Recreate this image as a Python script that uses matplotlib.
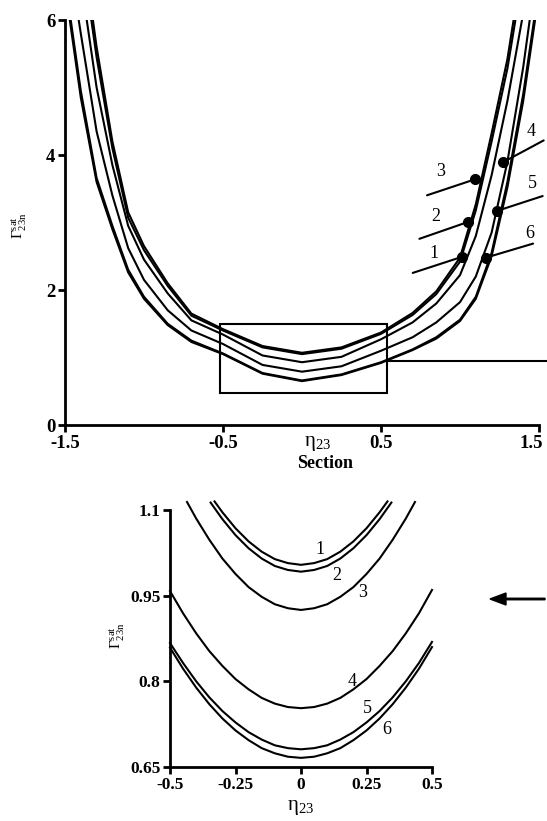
import matplotlib
matplotlib.use("Agg")
import numpy as np
import matplotlib.pyplot as plt
import matplotlib.transforms as mtransforms
from matplotlib.patches import Rectangle, FancyArrow

plt.rcParams['font.family'] = ['Liberation Serif', 'DejaVu Serif']
plt.rcParams['font.weight'] = 'bold'
plt.rcParams['mathtext.fontset'] = 'stix'
plt.rcParams['axes.unicode_minus'] = False

# main panel: eta grid and the six curves
TOP_ETA = [-1.5, -1.4, -1.3, -1.2, -1.1, -1.0, -0.85, -0.7, -0.5, -0.25, 0.0,
           0.25, 0.5, 0.7, 0.85, 1.0, 1.1, 1.2, 1.3, 1.4, 1.5]
TOP_C1 = [9.0, 7.3, 5.6, 4.2, 3.15, 2.65, 2.1, 1.65, 1.42, 1.17, 1.07,
          1.15, 1.37, 1.66, 1.98, 2.48, 3.27, 4.32, 5.42, 6.9, 8.5]
TOP_C2 = [8.8, 7.1, 5.45, 4.1, 3.07, 2.59, 2.06, 1.62, 1.40, 1.15, 1.05,
          1.13, 1.35, 1.63, 1.94, 2.42, 3.18, 4.2, 5.28, 6.7, 8.3]
TOP_C3 = [8.0, 6.6, 5.0, 3.85, 2.95, 2.45, 1.95, 1.55, 1.34, 1.03, 0.93,
          1.01, 1.27, 1.52, 1.8, 2.22, 2.8, 3.7, 4.8, 6.1, 7.8]
TOP_C4 = [7.3, 5.8, 4.35, 3.4, 2.62, 2.15, 1.7, 1.40, 1.20, 0.89, 0.79,
          0.87, 1.10, 1.30, 1.52, 1.82, 2.2, 2.85, 3.9, 5.3, 7.0]
TOP_C5 = [6.6, 4.95, 3.66, 2.95, 2.3, 1.9, 1.5, 1.25, 1.06, 0.77, 0.66,
          0.75, 0.93, 1.12, 1.3, 1.56, 1.9, 2.55, 3.6, 4.9, 6.5]
TOP_C6 = [6.5, 4.85, 3.6, 2.9, 2.26, 1.87, 1.48, 1.23, 1.05, 0.76, 0.65,
          0.74, 0.92, 1.11, 1.28, 1.54, 1.87, 2.5, 3.52, 4.8, 6.4]
TOP_CURVES = [TOP_C1, TOP_C2, TOP_C3, TOP_C4, TOP_C5, TOP_C6]

# marked points on the right branch
DOT_LABELS = ['1', '2', '3', '4', '5', '6']
DOT_ETA = [1.011, 1.053, 1.095, 1.270, 1.232, 1.165]
DOT_GAMMA = [2.49, 3.01, 3.64, 3.89, 3.17, 2.48]

# section box
BOX_ETA = [-0.52, 0.54]
BOX_GAMMA = [0.47, 1.50]
SECTION_LEVEL = 0.95

# zoomed section
SEC_ETA = [-0.5, -0.45, -0.4, -0.35, -0.3, -0.25, -0.2, -0.15, -0.1, -0.05, 0.0,
           0.05, 0.1, 0.15, 0.2, 0.25, 0.3, 0.35, 0.4, 0.45, 0.5]
SEC_C4 = [0.958, 0.919, 0.884, 0.853, 0.827, 0.804, 0.786, 0.771, 0.761, 0.755, 0.753,
          0.755, 0.761, 0.771, 0.786, 0.804, 0.827, 0.853, 0.884, 0.919, 0.960]
SEC_C5 = [0.867, 0.832, 0.800, 0.772, 0.748, 0.728, 0.711, 0.698, 0.688, 0.683, 0.681,
          0.683, 0.688, 0.698, 0.711, 0.728, 0.748, 0.772, 0.800, 0.832, 0.869]
SEC_C6 = [0.859, 0.822, 0.789, 0.760, 0.735, 0.714, 0.697, 0.683, 0.674, 0.668, 0.666,
          0.668, 0.674, 0.683, 0.697, 0.714, 0.735, 0.760, 0.789, 0.822, 0.860]
SEC1_ETA = [-0.33, -0.3, -0.25, -0.2, -0.15, -0.1, -0.05, 0.0, 0.05, 0.1, 0.15, 0.2, 0.25, 0.3, 0.33]
SEC_C1 = [1.115, 1.096, 1.068, 1.045, 1.027, 1.014, 1.007, 1.004, 1.007, 1.014, 1.027, 1.045, 1.068, 1.096, 1.115]
SEC2_ETA = [-0.345, -0.3, -0.25, -0.2, -0.15, -0.1, -0.05, 0.0, 0.05, 0.1, 0.15, 0.2, 0.25, 0.3, 0.345]
SEC_C2 = [1.113, 1.084, 1.056, 1.033, 1.015, 1.002, 0.995, 0.992, 0.995, 1.002, 1.015, 1.033, 1.056, 1.084, 1.113]
SEC3_ETA = [-0.435, -0.4, -0.35, -0.3, -0.25, -0.2, -0.15, -0.1, -0.05, 0.0,
            0.05, 0.1, 0.15, 0.2, 0.25, 0.3, 0.35, 0.4, 0.435]
SEC_C3 = [1.114, 1.085, 1.048, 1.015, 0.988, 0.965, 0.948, 0.935, 0.928, 0.925,
          0.928, 0.935, 0.948, 0.965, 0.988, 1.015, 1.048, 1.085, 1.114]
SEC_CURVES = [(SEC1_ETA, SEC_C1), (SEC2_ETA, SEC_C2), (SEC3_ETA, SEC_C3),
              (SEC_ETA, SEC_C4), (SEC_ETA, SEC_C5), (SEC_ETA, SEC_C6)]
SEC_LABEL_POS = [(0.073, 1.03), (0.137, 0.985), (0.237, 0.955),
                 (0.195, 0.80), (0.252, 0.752), (0.328, 0.715)]

TOP_XTICKS = [-1.5, -0.5, 0.5, 1.5]
TOP_YTICKS = [0, 2, 4, 6]
SEC_XTICKS = [-0.5, -0.25, 0, 0.25, 0.5]
SEC_YTICKS = [0.65, 0.8, 0.95, 1.1]

ETA_LABEL = r'$\mathregular{\eta_{23}}$'
GAMMA_LABEL = r'$\mathregular{\Gamma^{sat}_{23n}}$'

W, H = 547, 821
fig = plt.figure(figsize=(W / 100, H / 100), dpi=100)


def style_axes(ax, size):
    for side in ['top', 'right']:
        ax.spines[side].set_visible(False)
    for side in ['left', 'bottom']:
        ax.spines[side].set_linewidth(2.0)
    ax.tick_params(direction='out', length=5, width=2, labelsize=size, pad=2)
    for lab in ax.get_xticklabels() + ax.get_yticklabels():
        lab.set_fontweight('bold')


# ---- main panel ----
ax = fig.add_axes([65 / W, 1 - 425 / H, 474 / W, 405 / H])
for c in TOP_CURVES:
    ax.plot(TOP_ETA, c, color='black', lw=1.5)
ax.set_xlim(-1.5, 1.5)
ax.set_ylim(0, 6)
ax.set_xticks(TOP_XTICKS)
ax.set_xticklabels(['-1.5', '-0.5', '0.5', '1.5'])
ax.set_yticks(TOP_YTICKS)
ax.set_yticklabels([str(v) for v in TOP_YTICKS])
style_axes(ax, 13.5)
# keep the last tick label inside the figure
last = ax.get_xticklabels()[-1]
last.set_transform(last.get_transform() +
                   mtransforms.ScaledTranslation(-8 / 100, 0, fig.dpi_scale_trans))

ax.plot(DOT_ETA, DOT_GAMMA, 'o', color='black', ms=7, zorder=5)
offsets = {'1': ((-49, -16), (-28, 3)), '2': ((-49, -17), (-33, 5)),
           '3': ((-48, -16), (-34, 8)), '4': ((41, 22), (28, 31)),
           '5': ((46, 15), (36, 28)), '6': ((47, 14), (44, 24))}
for lab, e, g in zip(DOT_LABELS, DOT_ETA, DOT_GAMMA):
    (lx, ly), (tx, ty) = offsets[lab]
    ax.annotate('', xy=(e, g), xytext=(lx * 0.72, ly * 0.72), textcoords='offset points',
                arrowprops=dict(arrowstyle='-', color='black', lw=1.5, shrinkA=0, shrinkB=0))
    ax.annotate(lab, xy=(e, g), xytext=(tx * 0.72, ty * 0.72), textcoords='offset points',
                ha='center', va='center', fontsize=13, fontweight='normal')

ax.add_patch(Rectangle((BOX_ETA[0], BOX_GAMMA[0]), BOX_ETA[1] - BOX_ETA[0],
                       BOX_GAMMA[1] - BOX_GAMMA[0], fill=False, lw=1.5, ec='black'))
ax.plot([BOX_ETA[1], 1.56], [SECTION_LEVEL, SECTION_LEVEL], color='black', lw=1.5, clip_on=False)

fig.text(318 / W, 1 - 443 / H, ETA_LABEL, ha='center', va='center', fontsize=15,
         fontweight='normal')
fig.text(325 / W, 1 - 463 / H, 'Section', ha='center', va='center', fontsize=13, fontweight='bold')
fig.text(19 / W, 1 - 226 / H, GAMMA_LABEL, ha='center', va='center',
         rotation=90, fontsize=11, fontweight='normal')

# ---- zoomed section ----
ax2 = fig.add_axes([170 / W, 1 - 767 / H, 262 / W, 257 / H])
for e, c in SEC_CURVES:
    ax2.plot(e, c, color='black', lw=1.5, clip_on=False)
for lab, (px, py) in zip(DOT_LABELS, SEC_LABEL_POS):
    ax2.text(px, py, lab, ha='center', va='center', fontsize=13, fontweight='normal')
ax2.set_xlim(-0.5, 0.5)
ax2.set_ylim(0.65, 1.1)
ax2.set_xticks(SEC_XTICKS)
ax2.set_xticklabels(['-0.5', '-0.25', '0', '0.25', '0.5'])
ax2.set_yticks(SEC_YTICKS)
ax2.set_yticklabels(['0.65', '0.8', '0.95', '1.1'])
style_axes(ax2, 12.5)

fig.text(301 / W, 1 - 807 / H, ETA_LABEL, ha='center', va='center', fontsize=15,
         fontweight='normal')
fig.text(117 / W, 1 - 636 / H, GAMMA_LABEL, ha='center', va='center',
         rotation=90, fontsize=11, fontweight='normal')

fig.patches.append(FancyArrow(
    545 / W, 1 - 599 / H, -55 / W, 0, width=1.5 / H, head_width=12 / H,
    head_length=16 / W, length_includes_head=True, color='black',
    transform=fig.transFigure, figure=fig))

fig.savefig('out.png', dpi=100)
